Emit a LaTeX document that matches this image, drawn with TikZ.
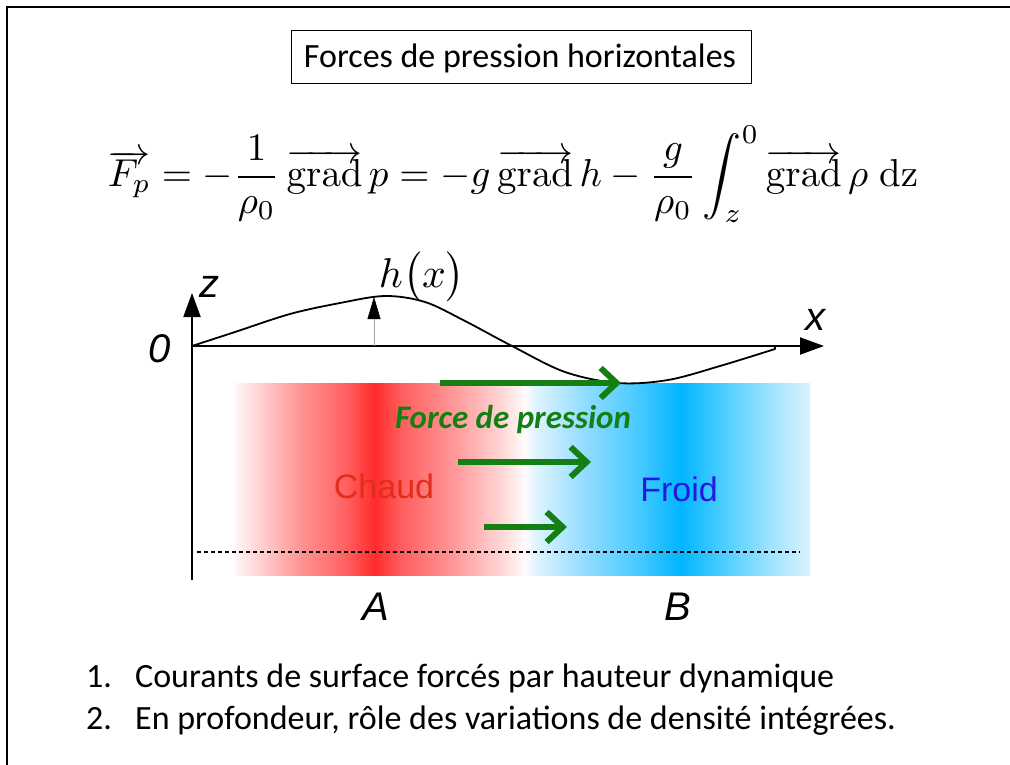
\documentclass[tikz,border=0pt]{standalone}
\usepackage{graphicx}
\usepackage[no-math]{fontspec}
\setmainfont{Carlito}
\newfontfamily\arialf{Liberation Sans}
\usetikzlibrary{arrows.meta}
\definecolor{gr}{RGB}{20,128,20}
\definecolor{hotc}{RGB}{225,45,25}
\definecolor{coldc}{RGB}{35,25,225}
\pgfdeclarehorizontalshading{hotcold}{100bp}{%
rgb(0bp)=(1,0.97,0.97);
rgb(25bp)=(1,0.97,0.97);
rgb(26.3bp)=(1,0.88,0.88);
rgb(30.65bp)=(1,0.58,0.58);
rgb(34.57bp)=(1,0.38,0.38);
rgb(37.17bp)=(1,0.17,0.17);
rgb(39.35bp)=(1,0.36,0.36);
rgb(43.7bp)=(1,0.58,0.58);
rgb(48.04bp)=(1,0.83,0.83);
rgb(50.22bp)=(1,0.99,0.99);
rgb(51.09bp)=(0.88,0.96,1);
rgb(55bp)=(0.6,0.87,1);
rgb(60.22bp)=(0.27,0.79,1);
rgb(63.7bp)=(0,0.71,1);
rgb(67.17bp)=(0.28,0.8,1);
rgb(71.52bp)=(0.62,0.89,1);
rgb(75bp)=(0.86,0.95,1);
rgb(100bp)=(0.86,0.95,1)}
\tikzset{
  frameline/.style={line width=2.5pt},
  axisarrow/.style={line width=2pt,-{Triangle[length=24pt,width=17pt]}},
  greenarrow/.style={line width=6pt,draw=gr,-{Straight Barb[length=16pt,width=30pt]}},
  ilabel/.style={inner sep=0pt,font=\arialf\itshape\fontsize{40}{44}\selectfont},
  cal/.style={inner sep=0pt,font=\fontsize{34}{40}\selectfont},
}
\begin{document}
\begin{tikzpicture}[x=1pt,y=-1pt]
\useasboundingbox (0,0) rectangle (1010,765);
\fill[white] (0,0) rectangle (1010,765);
% frame
\draw[frameline] (7,765) -- (7,7) -- (1010,7);
% title
\node[draw,line width=1pt,minimum width=460pt,minimum height=53pt,inner sep=0pt] (titlebox) at (521,57.5) {};
\node[cal,anchor=base] (title) at (520,68) {Forces de pression horizontales};
% formula
\node[inner sep=0pt] (formula) at (513,174) {\resizebox{810pt}{!}{$\displaystyle \overrightarrow{F_p} = -\frac{1}{\rho_0}\,\overrightarrow{\mathrm{grad}}\,p = -g\,\overrightarrow{\mathrm{grad}}\,h - \frac{g}{\rho_0}\int_z^0 \overrightarrow{\mathrm{grad}}\,\rho\;\mathrm{dz}$}};
% colour band
\shade[shading=hotcold] (235,383) rectangle (810,575);
% dashed bottom line
\coordinate (d1) at (197,552);
\coordinate (d2) at (800,552);
\draw[line width=1.5pt,dash pattern=on 4pt off 3pt] (d1) -- (d2);
% axes
\coordinate (O) at (192,346);
\coordinate (zb) at (192,580);
\coordinate (zt) at (192,293);
\coordinate (xt) at (824,346);
\draw[axisarrow] (zb) -- (zt);
\draw[axisarrow] (O) -- (xt);
% surface curve
\coordinate (ctick) at (775,346);
\draw[line width=1.8pt,line join=round] plot[smooth,tension=0.55] coordinates {(192,346) (235,332) (290,314) (340,303) (385,296) (425,302) (465,321) (512,346) (565,372) (618,383) (668,380) (720,366) (775,349)} -- (ctick);
% h arrow
\coordinate (hb) at (374,346);
\coordinate (ht) at (374,297);
\draw[line width=0.5pt,gray!70,-{Triangle[length=22pt,width=13pt,color=black]}] (hb) -- (ht);
% labels
\node[inner sep=0pt] (hx) at (422,277) {\resizebox{86pt}{!}{$h\big(x\big)$}};
\node[ilabel,anchor=base] (zl) at (209,297) {z};
\node[ilabel,anchor=base] (xl) at (815,330) {x};
\node[ilabel,anchor=base] (ol) at (160,362) {0};
\node[ilabel,anchor=base] (al) at (376,620) {A};
\node[ilabel,anchor=base] (bl) at (678,620) {B};
% green arrows
\coordinate (g1a) at (440,383); \coordinate (g1b) at (621,383);
\coordinate (g2a) at (458,462); \coordinate (g2b) at (591,462);
\coordinate (g3a) at (484,527); \coordinate (g3b) at (567,527);
\draw[greenarrow] (g1a) -- (g1b);
\draw[greenarrow] (g2a) -- (g2b);
\draw[greenarrow] (g3a) -- (g3b);
\node[inner sep=0pt,anchor=base,text=gr,font=\bfseries\itshape\fontsize{33}{38}\selectfont] (force) at (513,428) {Force de pression};
\node[inner sep=0pt,anchor=base,text=hotc,font=\arialf\fontsize{34}{40}\selectfont] (chaud) at (384,498) {Chaud};
\node[inner sep=0pt,anchor=base,text=coldc,font=\arialf\fontsize{34}{40}\selectfont] (froid) at (679,501) {Froid};
% list
\node[cal,anchor=base west] (n1) at (86,687) {1.};
\node[cal,anchor=base west] (l1) at (135,687) {Courants de surface forcés par hauteur dynamique};
\node[cal,anchor=base west] (n2) at (86,729) {2.};
\node[cal,anchor=base west] (l2) at (135,729) {En profondeur, rôle des variations de densité intégrées.};
\end{tikzpicture}
\end{document}
